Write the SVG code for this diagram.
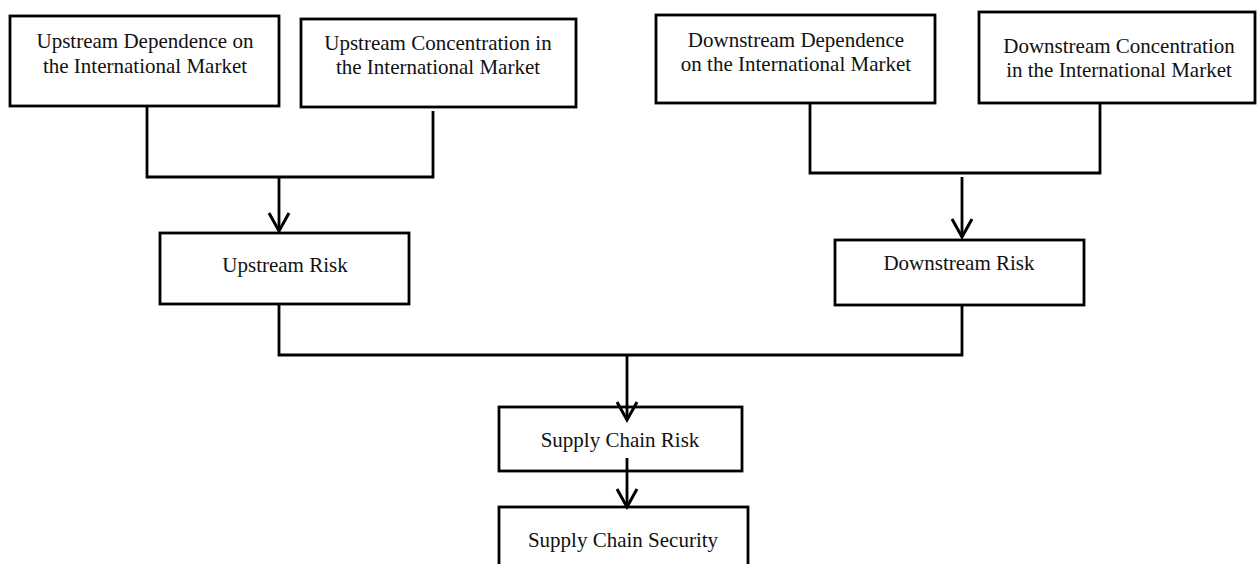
<svg xmlns="http://www.w3.org/2000/svg" width="1258" height="564" viewBox="0 0 1258 564">
  <style>
    .box { fill: #ffffff; stroke: #000000; stroke-width: 2.8; }
    .lbl { font-family: "Liberation Serif", "Times New Roman", serif; font-size: 21px; fill: #111111; text-anchor: middle; }
    .conn { fill: none; stroke: #000000; stroke-width: 2.8; }
  </style>
  <defs>
    <marker id="arrow" markerUnits="userSpaceOnUse" markerWidth="26" markerHeight="26" viewBox="-21 -13 26 26" refX="0" refY="0" orient="auto" overflow="visible">
      <path d="M-18,-10 L0,0 L-18,10" fill="none" stroke="#000000" stroke-width="3" stroke-linejoin="miter"/>
    </marker>
  </defs>
  <rect width="1258" height="564" fill="#ffffff"/>

  <g id="node-up-dep">
    <rect class="box" x="10" y="16" width="269" height="90"/>
    <text class="lbl" x="145" y="48">Upstream Dependence on</text>
    <text class="lbl" x="145" y="73">the International Market</text>
  </g>
  <g id="node-up-conc">
    <rect class="box" x="301" y="19" width="275" height="88"/>
    <text class="lbl" x="438" y="50">Upstream Concentration in</text>
    <text class="lbl" x="438" y="74">the International Market</text>
  </g>
  <g id="node-down-dep">
    <rect class="box" x="656" y="15" width="279" height="88"/>
    <text class="lbl" x="796" y="47">Downstream Dependence</text>
    <text class="lbl" x="796" y="71">on the International Market</text>
  </g>
  <g id="node-down-conc">
    <rect class="box" x="979" y="12" width="276" height="91"/>
    <text class="lbl" x="1119" y="53">Downstream Concentration</text>
    <text class="lbl" x="1119" y="77">in the International Market</text>
  </g>
  <g id="node-up-risk">
    <rect class="box" x="160" y="233" width="249" height="71"/>
    <text class="lbl" x="285" y="272">Upstream Risk</text>
  </g>
  <g id="node-down-risk">
    <rect class="box" x="835" y="240" width="249" height="65"/>
    <text class="lbl" x="959" y="270">Downstream Risk</text>
  </g>
  <g id="node-sc-risk">
    <rect class="box" x="499" y="407" width="243" height="64"/>
    <text class="lbl" x="620" y="447">Supply Chain Risk</text>
  </g>
  <g id="node-sc-security">
    <rect class="box" x="499" y="507" width="249" height="72"/>
    <text class="lbl" x="623" y="547">Supply Chain Security</text>
  </g>

  <g id="connectors">
    <path class="conn" d="M147,106 V177 H433 V111"/>
    <path class="conn" d="M279,177 V231" marker-end="url(#arrow)"/>
    <path class="conn" d="M810,103 V173 H1100 V103"/>
    <path class="conn" d="M962,177 V237" marker-end="url(#arrow)"/>
    <path class="conn" d="M279,304 V355 H962 V305"/>
    <path class="conn" d="M627,355 V420" marker-end="url(#arrow)"/>
    <path class="conn" d="M627,458 V507" marker-end="url(#arrow)"/>
  </g>
</svg>
